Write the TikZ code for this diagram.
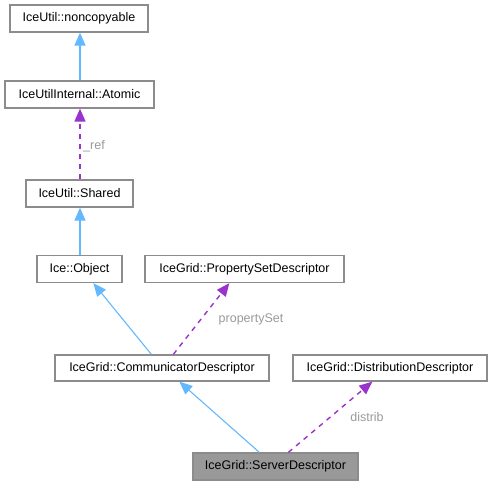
\documentclass[tikz,border=0pt]{standalone}
\usepackage{fontspec}
\setmainfont{Liberation Sans}
\usetikzlibrary{arrows.meta,calc}
\definecolor{edgeblue}{HTML}{63B8FF}
\definecolor{edgepurple}{HTML}{9A32CD}
\definecolor{boxborder}{HTML}{8C8C8C}
\definecolor{labelgray}{HTML}{9A9A9A}
\definecolor{curfill}{HTML}{999999}
\tikzset{
  cls/.style={draw=boxborder, line width=1.3pt, fill=white, rectangle, inner sep=0pt,
              minimum height=27pt, font=\fontsize{12.5}{15}\selectfont, text=black},
  inh/.style={draw=edgeblue, line width=1.1pt, -{Triangle[length=13pt,width=11pt]}},
  use/.style={draw=edgepurple, line width=1.4pt, dash pattern=on 5pt off 5pt, -{Triangle[length=13pt,width=11pt]}},
  elabel/.style={text=labelgray, font=\fontsize{12.5}{15}\selectfont, inner sep=0pt}
}
\begin{document}
\begin{tikzpicture}[x=1pt,y=-1pt]
\useasboundingbox (0,0) rectangle (493,485);
\node[cls, minimum width=138pt] (nc) at (79,18.5) {IceUtil::noncopyable};
\node[cls, minimum width=149pt] (at) at (79.5,94.5) {IceUtilInternal::Atomic};
\node[cls, minimum width=107pt] (sh) at (79.5,193.5) {IceUtil::Shared};
\node[cls, minimum width=85pt] (ob) at (79.5,269) {Ice::Object};
\node[cls, minimum width=199pt] (ps) at (244.5,269) {IceGrid::PropertySetDescriptor};
\node[cls, minimum width=214pt, minimum height=26pt] (cd) at (162,368) {IceGrid::CommunicatorDescriptor};
\node[cls, minimum width=194pt, minimum height=26pt] (dd) at (390,368) {IceGrid::DistributionDescriptor};
\node[cls, minimum width=165pt, fill=curfill] (sd) at (275.5,466.5) {IceGrid::ServerDescriptor};

\draw[inh] ($(at.north)+(0.5,0)$) -- ($(nc.south)+(1,0)$);
\draw[use] ($(sh.north)+(0.5,0)$) -- ($(at.south)+(0.5,0)$);
\node[elabel] (lref) at (94,146) {\_ref};
\draw[inh] ($(ob.north)+(0.5,0)$) -- ($(sh.south)+(0.5,0)$);
\draw[inh] ($(cd.north west)+(97,0)$) -- ($(ob.south west)+(57,0)$);
\draw[use] ($(cd.north west)+(119,0)$) -- ($(ps.south west)+(85,0)$);
\node[elabel] (lps) at (251,319) {propertySet};
\draw[inh] ($(sd.north west)+(67,0)$) -- ($(cd.south west)+(125,0)$);
\draw[use] ($(sd.north west)+(96,0)$) -- ($(dd.south west)+(80,0)$);
\node[elabel] (ldi) at (367,417) {distrib};
\end{tikzpicture}
\end{document}
